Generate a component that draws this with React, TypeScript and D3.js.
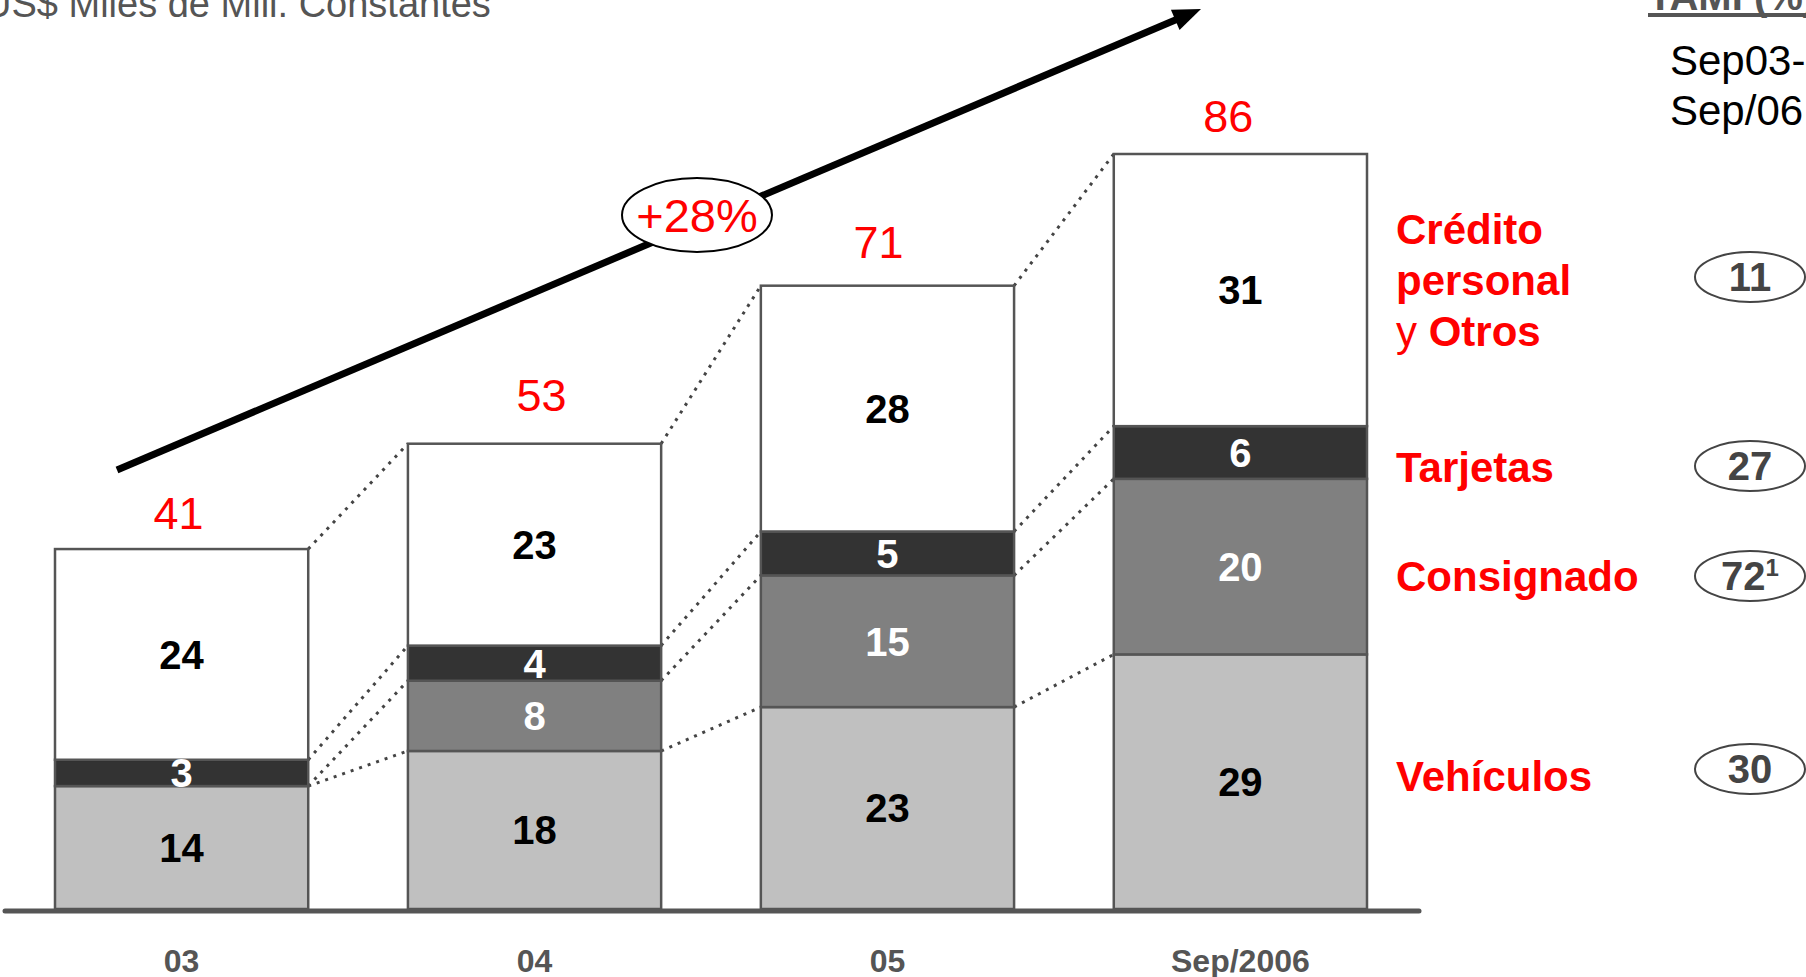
import React from "react";
import * as d3 from "d3";

// Stacked loan portfolio by product, US$ billions (constant)
const categories = ["03", "04", "05", "Sep/2006"];
const vehiculos = [14, 18, 23, 29];
const consignado = [0, 8, 15, 20];
const tarjetas = [3, 4, 5, 6];
const credito = [24, 23, 28, 31];

const seriesKeys = ["vehiculos", "consignado", "tarjetas", "credito"];
const seriesFill = ["#c0c0c0", "#808080", "#333333", "#ffffff"];
const seriesLabelColor = ["#000000", "#ffffff", "#ffffff", "#000000"];

// Growth rates shown at the right, top to bottom: Crédito, Tarjetas, Consignado, Vehículos
const cagrValues = ["11", "27", "72", "30"];
const cagrFootnote = ["", "", "1", ""];
const cagrCenterY = [277, 466, 576, 769];

const growthLabel = "+28%";
const titleText = "US$ Miles de Mill. Constantes";
const headerText = "TAMI (%)";
const periodLines = ["Sep03-", "Sep/06"];

// hand-placed nudges of the total labels above each bar ([dx, gap above bar top])
const totalLabelNudge: [number, number][] = [
  [-3, 36],
  [7, 49],
  [-9, 44],
  [-12, 38],
];

const FONT = "'Liberation Sans', Arial, Helvetica, sans-serif";

export default function App() {
  const W = 1806;
  const H = 977;

  const rows = categories.map((c, i) => ({
    cat: c,
    vehiculos: vehiculos[i],
    consignado: consignado[i],
    tarjetas: tarjetas[i],
    credito: credito[i],
  }));
  const totals = rows.map((r) => r.vehiculos + r.consignado + r.tarjetas + r.credito);

  const x = d3
    .scaleBand<string>()
    .domain(categories)
    .range([55, 1367])
    .paddingInner(0.2825)
    .paddingOuter(0);
  const y = d3.scaleLinear().domain([0, 86]).range([909, 154]);

  const stack = d3.stack<any>().keys(seriesKeys);
  const layers = stack(rows);
  const bw = x.bandwidth();

  // cumulative boundaries per bar (for the dotted connectors)
  const cum = rows.map((r) => {
    const a = r.vehiculos;
    const b = a + r.consignado;
    const c = b + r.tarjetas;
    const d = c + r.credito;
    return [a, b, c, d];
  });

  const connectors: { x1: number; y1: number; x2: number; y2: number }[] = [];
  for (let i = 0; i < categories.length - 1; i++) {
    for (let k = 0; k < 4; k++) {
      connectors.push({
        x1: (x(categories[i]) as number) + bw,
        y1: y(cum[i][k]),
        x2: x(categories[i + 1]) as number,
        y2: y(cum[i + 1][k]),
      });
    }
  }

  // growth arrow
  const ax1 = 117,
    ay1 = 470,
    ax2 = 1201,
    ay2 = 9;
  const ang = Math.atan2(ay2 - ay1, ax2 - ax1);
  const headLen = 28;
  const headHalf = 11;
  const bx = ax2 - headLen * Math.cos(ang);
  const by = ay2 - headLen * Math.sin(ang);
  const px = -Math.sin(ang);
  const py = Math.cos(ang);
  const headPts = [
    [ax2, ay2],
    [bx + px * headHalf, by + py * headHalf],
    [bx - px * headHalf, by - py * headHalf],
  ]
    .map((p) => p.join(","))
    .join(" ");

  return (
    <svg
      width={W}
      height={H}
      style={{ position: "absolute", left: 0, top: 0, display: "block", background: "#fff" }}
      fontFamily={FONT}
    >
      {/* title */}
      <text x={-16} y={17} fontSize={38} fill="#555">
        {titleText}
      </text>

      {/* header on the right */}
      <text x={1648} y={10} fontSize={40} fontWeight="bold" fill="#555">
        {headerText}
      </text>
      <line x1={1648} x2={1806} y1={15} y2={15} stroke="#555" strokeWidth={4} />
      {periodLines.map((t, i) => (
        <text key={t} x={1670} y={75 + i * 50} fontSize={42} fill="#000">
          {t}
        </text>
      ))}

      {/* dotted connectors */}
      {connectors.map((c, i) => (
        <line
          key={i}
          x1={c.x1}
          y1={c.y1}
          x2={c.x2}
          y2={c.y2}
          stroke="#444"
          strokeWidth={3}
          strokeDasharray="3,6"
        />
      ))}

      {/* stacked bars */}
      {layers.map((layer, li) => (
        <g key={layer.key}>
          {layer.map((d, i) => {
            const h = y(d[0]) - y(d[1]);
            if (h <= 0) return null;
            return (
              <rect
                key={i}
                x={x(categories[i])}
                y={y(d[1])}
                width={bw}
                height={h}
                fill={seriesFill[li]}
                stroke="#555"
                strokeWidth={2.5}
              />
            );
          })}
        </g>
      ))}

      {/* segment values */}
      {layers.map((layer, li) => (
        <g key={"l" + layer.key}>
          {layer.map((d, i) => {
            const v = d[1] - d[0];
            if (v <= 0) return null;
            return (
              <text
                key={i}
                x={(x(categories[i]) as number) + bw / 2}
                y={(y(d[0]) + y(d[1])) / 2}
                dy="0.36em"
                textAnchor="middle"
                fontSize={40}
                fontWeight="bold"
                fill={seriesLabelColor[li]}
              >
                {v}
              </text>
            );
          })}
        </g>
      ))}

      {/* totals */}
      {totals.map((t, i) => (
        <text
          key={i}
          x={(x(categories[i]) as number) + bw / 2 + totalLabelNudge[i][0]}
          y={y(t) - totalLabelNudge[i][1]}
          dy="0.36em"
          textAnchor="middle"
          fontSize={45}
          fill="#ff0000"
        >
          {t}
        </text>
      ))}

      {/* baseline */}
      <line x1={5} x2={1419} y1={911} y2={911} stroke="#555" strokeWidth={5} strokeLinecap="round" />

      {/* category labels */}
      {categories.map((c) => (
        <text
          key={c}
          x={(x(c) as number) + bw / 2}
          y={972}
          textAnchor="middle"
          fontSize={32}
          fontWeight="bold"
          fill="#555"
        >
          {c}
        </text>
      ))}

      {/* growth arrow */}
      <line
        x1={ax1}
        y1={ay1}
        x2={bx + 2 * Math.cos(ang)}
        y2={by + 2 * Math.sin(ang)}
        stroke="#000"
        strokeWidth={7}
      />
      <polygon points={headPts} fill="#000" />
      <ellipse cx={697} cy={215} rx={75} ry={37} fill="#fff" stroke="#000" strokeWidth={2} />
      <text x={697} y={215} dy="0.36em" textAnchor="middle" fontSize={47} fill="#ff0000">
        {growthLabel}
      </text>

      {/* series labels */}
      <g fontSize={42} fill="#ff0000" fontWeight="bold">
        <text x={1396} y={244}>Crédito</text>
        <text x={1396} y={295}>personal</text>
        <text x={1396} y={346}>
          <tspan fontWeight="normal">y </tspan>Otros
        </text>
        <text x={1396} y={482}>Tarjetas</text>
        <text x={1396} y={591}>Consignado</text>
        <text x={1396} y={791}>Vehículos</text>
      </g>

      {/* growth rate badges */}
      {cagrValues.map((v, i) => (
        <g key={i}>
          <ellipse cx={1750} cy={cagrCenterY[i]} rx={55} ry={25} fill="#fff" stroke="#444" strokeWidth={2} />
          <text
            x={1750}
            y={cagrCenterY[i]}
            dy="0.36em"
            textAnchor="middle"
            fontSize={40}
            fontWeight="bold"
            fill="#444"
          >
            {v}
            {cagrFootnote[i] ? (
              <tspan fontSize={24} dy="-14">
                {cagrFootnote[i]}
              </tspan>
            ) : null}
          </text>
        </g>
      ))}
    </svg>
  );
}
